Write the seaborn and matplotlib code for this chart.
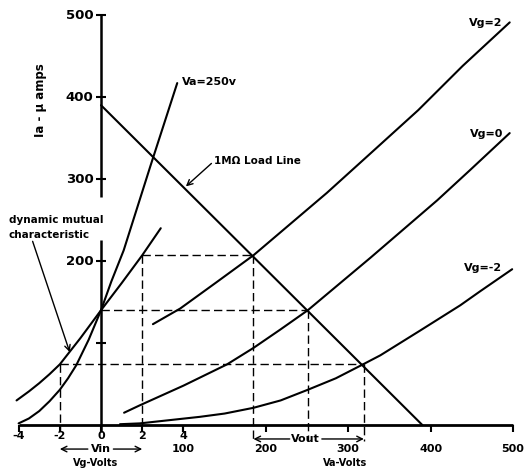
import matplotlib
matplotlib.use("Agg")
import matplotlib.pyplot as plt
import numpy as np
import pandas as pd
import seaborn as sns

# anode characteristics: Va (volts) against Ia (micro amps)
va_g2 = [63, 96, 140, 185, 274, 329, 385, 439, 496]
ia_g2 = [123, 142, 174, 207, 283, 333, 384, 438, 491]
va_g0 = [28, 47, 100, 153, 185, 217, 251, 327, 408, 448, 496]
ia_g0 = [15, 24, 48, 74, 94, 116, 140, 204, 274, 311, 356]
va_gm2 = [23, 47, 120, 150, 185, 218, 251, 285, 318, 339, 387, 436, 460, 499]
ia_gm2 = [1, 2, 10, 14, 21, 30, 43, 57, 74, 85, 115, 146, 163, 190]

# 1M load line
load_va = [0, 390]
load_ia = [390, 0]

# mutual characteristics: Vg (volts) against Ia
vg_static = [-4.0, -3.5, -3.0, -2.5, -2.0, -1.6, -1.2, -0.6, 0, 0.5, 1.1, 2.4, 3.7]
ia_static = [2, 8, 17, 29, 43, 57, 73, 104, 140, 175, 213, 316, 417]
vg_dyn = [-4.1, -3.5, -3, -2.5, -2, -1, 0, 1, 2, 2.9]
ia_dyn = [30, 41, 51, 62, 74, 106, 140, 173, 207, 240]

# operating points where the load line cuts each grid curve
op_vg = [2, 0, -2]
op_va = [185, 251, 319]
op_ia = [207, 140, 74]

vg_ticks = [-4, -2, 0, 2, 4]
va_ticks = [100, 200, 300, 400, 500]
ia_ticks = [100, 200, 300, 400, 500]
ia_ticklabels = ['', '200', '300', '400', '500']

VG_SCALE = 25  # 1 V on the grid scale sits where 25 V sits on the anode scale

curves = pd.concat([
    pd.DataFrame({'x': va_g2, 'y': ia_g2, 'curve': 'Vg=2'}),
    pd.DataFrame({'x': va_g0, 'y': ia_g0, 'curve': 'Vg=0'}),
    pd.DataFrame({'x': va_gm2, 'y': ia_gm2, 'curve': 'Vg=-2'}),
    pd.DataFrame({'x': load_va, 'y': load_ia, 'curve': 'load'}),
    pd.DataFrame({'x': np.array(vg_static) * VG_SCALE, 'y': ia_static, 'curve': 'static'}),
    pd.DataFrame({'x': np.array(vg_dyn) * VG_SCALE, 'y': ia_dyn, 'curve': 'dynamic'}),
])

sns.set_style('white')
plt.rcParams['font.family'] = ['DejaVu Sans']
plt.rcParams['font.weight'] = 'bold'
plt.rcParams['text.color'] = 'black'

fig = plt.figure(figsize=(5.27, 4.68), dpi=100)
ax = fig.add_axes([0, 0, 1, 1])

sns.lineplot(data=curves, x='x', y='y', units='curve', estimator=None, sort=False,
             color='black', lw=1.5, ax=ax, legend=False)

k = dict(color='black', solid_capstyle='butt')
# hand drawn axes, y axis broken where the label sits
ax.plot([0, 0], [500, 278], lw=1.8, **k)
ax.plot([0, 0], [226, -9], lw=1.8, **k)
ax.plot([-100, 500], [0, 0], lw=2.0, **k)
for t in ia_ticks:
    ax.plot([-6, 6], [t, t], lw=1.5, **k)
for t, lab in zip(ia_ticks, ia_ticklabels):
    ax.text(-9, t, lab, ha='right', va='center', fontsize=9.5)
for v in vg_ticks:
    ax.plot([v * VG_SCALE] * 2, [0, -9], lw=1.5, **k)
    ax.text(v * VG_SCALE, -13.4, str(v), ha='center', va='center', fontsize=8)
for v in va_ticks:
    ax.plot([v] * 2, [0, -9], lw=1.5, **k)
    ax.text(v, -29.3, str(v), ha='center', va='center', fontsize=8)

# dashed construction lines
dash = dict(color='black', lw=1, ls=(0, (6, 3)))
for g, va, ia in zip(op_vg, op_va, op_ia):
    ax.plot([g * VG_SCALE, va], [ia, ia], **dash)
    if g != 0:
        ax.plot([g * VG_SCALE] * 2, [ia, -7], **dash)
    ax.plot([va] * 2, [ia, -20], **dash)

arr = dict(arrowstyle='->', lw=1, color='black', shrinkA=0, shrinkB=0)
# Vin and Vout spans
ax.text(0, -29.3, 'Vin', ha='center', va='center', fontsize=8)
ax.annotate('', xy=(op_vg[2] * VG_SCALE, -29.3), xytext=(-16, -29.3), arrowprops=arr)
ax.annotate('', xy=(op_vg[0] * VG_SCALE, -29.3), xytext=(15, -29.3), arrowprops=arr)
ax.text(248, -17, 'Vout', ha='center', va='center', fontsize=8)
ax.annotate('', xy=(op_va[0], -17), xytext=(229, -17), arrowprops=arr)
ax.annotate('', xy=(op_va[2], -17), xytext=(268, -17), arrowprops=arr)

ax.text(-7, -51.8, 'Vg-Volts', ha='center', va='bottom', fontsize=7)
ax.text(296, -51.8, 'Va-Volts', ha='center', va='bottom', fontsize=7)
ax.text(-73, 396, 'Ia - μ amps', rotation=90, ha='center', va='center', fontsize=8.5)

ax.text(487, 490, 'Vg=2', ha='right', va='center', fontsize=8)
ax.text(488, 355, 'Vg=0', ha='right', va='center', fontsize=8)
ax.text(487, 192, 'Vg=-2', ha='right', va='center', fontsize=8)
ax.text(98, 418, 'Va=250v', ha='left', va='center', fontsize=8)

ax.text(137, 322, '1MΩ Load Line', ha='left', va='center', fontsize=7.5)
ax.annotate('', xy=(103, 291), xytext=(134, 319), arrowprops=arr)

ax.text(-112, 250, 'dynamic mutual', ha='left', va='center', fontsize=7.5)
ax.text(-112, 232, 'characteristic', ha='left', va='center', fontsize=7.5)
ax.annotate('', xy=(-38, 89), xytext=(-83, 224), arrowprops=arr)

ax.set_xlim(-122.6, 517)
ax.set_ylim(-52.4, 518.3)
ax.axis('off')

fig.savefig('out.png', dpi=100)
